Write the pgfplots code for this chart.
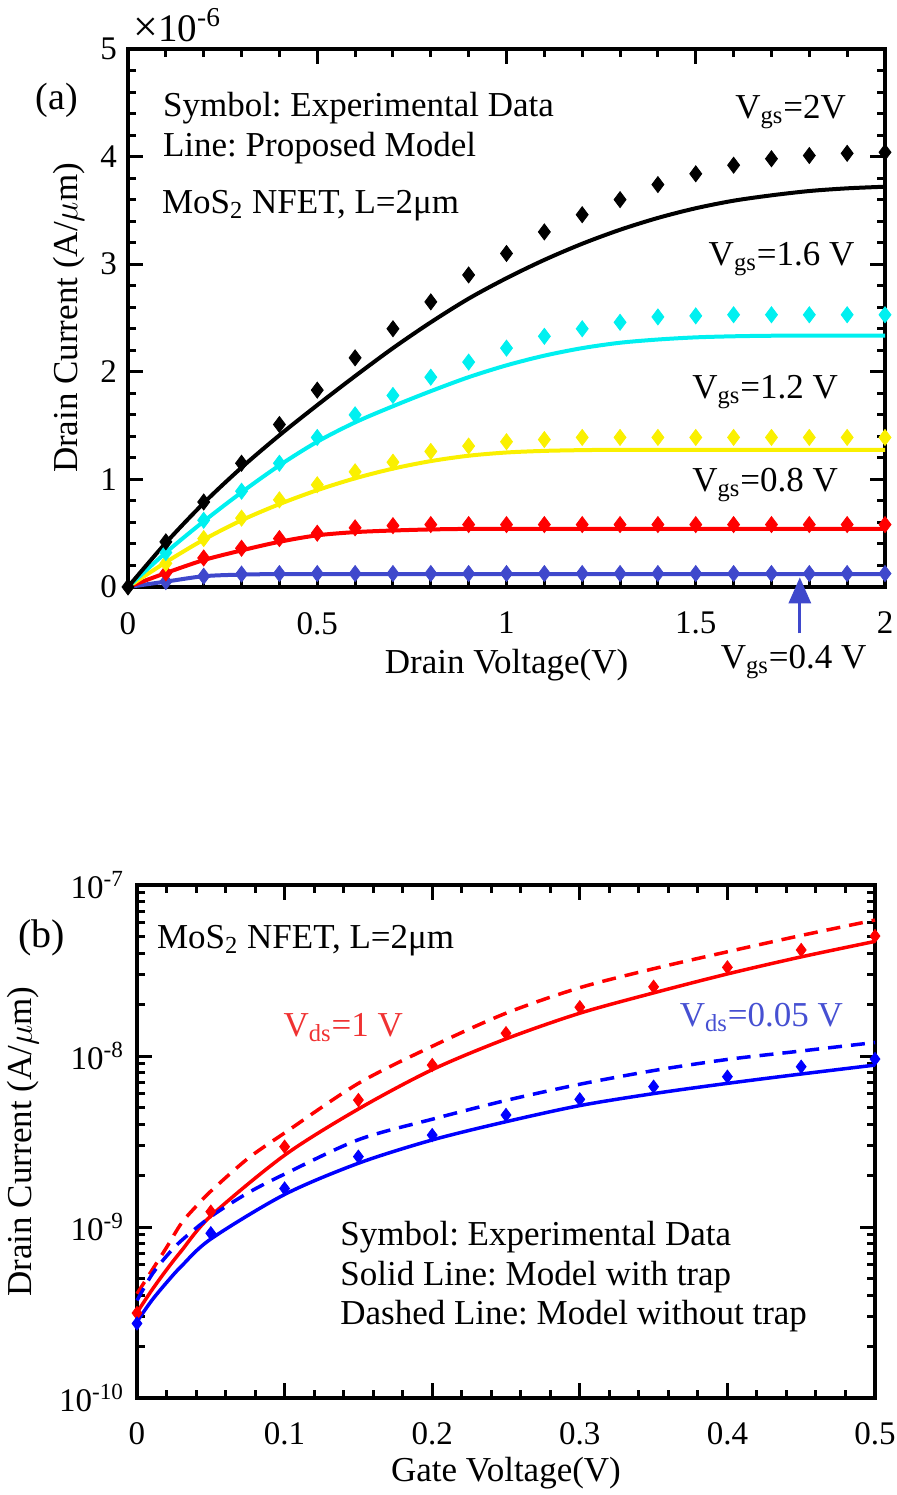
\documentclass[border=0pt]{standalone}
\usepackage{fontspec}
\setmainfont{Liberation Serif}
\usepackage{pgfplots}
\pgfplotsset{compat=1.18}
\usetikzlibrary{arrows.meta}
\frenchspacing
\definecolor{cblue}{RGB}{63,72,204}
\definecolor{ccyan}{RGB}{0,240,240}
\definecolor{cyel}{RGB}{250,240,0}
\definecolor{lred}{RGB}{240,50,50}
\definecolor{lblue}{RGB}{70,80,210}
\pgfplotsset{
  myaxis/.style={
    scale only axis, clip=false,
    tick align=inside,
    major tick length=7.5pt, minor tick length=4pt,
    every tick/.append style={line width=1.5pt, black},
    axis line style={line width=2pt},
    font=\fontsize{17.5}{20}\selectfont,
    tick label style={font=\fontsize{16.5}{20}\selectfont},
    label style={font=\fontsize{17.5}{20}\selectfont},
    /pgf/number format/assume math mode=true,
  },
}
\begin{document}
\begin{tikzpicture}
\path[use as bounding box] (0,0) rectangle (448.5pt,747.5pt);
% ---------------- (a) ----------------
\begin{axis}[myaxis,
  at={(64pt,454pt)}, anchor=south west,
  width=378.5pt, height=269pt,
  xmin=0, xmax=2, ymin=0, ymax=5,
  xtick={0,0.5,1,1.5,2}, minor x tick num=4,
  ytick={0,1,2,3,4,5}, minor y tick num=4,
  xticklabel style={yshift=-9pt},
  yticklabel style={xshift=-2pt},
  xlabel={Drain Voltage(V)},
  xlabel style={at={(axis description cs:0.5,-0.145)}, anchor=center},
  ylabel={Drain Current (A/$\mu$m)},
  ylabel style={at={(axis description cs:-0.078,0.5)}, anchor=center},
]
% Vgs = 0.4 V
\addplot[cblue, line width=2pt, smooth] coordinates {(0,0) (0.1,0.05) (0.2,0.10) (0.3,0.115) (0.4,0.12) (0.6,0.12) (0.8,0.12) (1.0,0.12) (1.2,0.12) (1.4,0.12) (1.6,0.12) (1.8,0.12) (2.0,0.12)};
\addplot[cblue, only marks, mark=diamond*, mark size=4pt] coordinates {(0.1,0.05) (0.2,0.10) (0.3,0.12) (0.4,0.125) (0.5,0.125) (0.6,0.125) (0.7,0.125) (0.8,0.125) (0.9,0.125) (1.0,0.125) (1.1,0.125) (1.2,0.125) (1.3,0.125) (1.4,0.125) (1.5,0.125) (1.6,0.125) (1.7,0.125) (1.8,0.125) (1.9,0.125) (2.0,0.125)};
% Vgs = 0.8 V
\addplot[red, line width=2pt, smooth] coordinates {(0,0) (0.1,0.13) (0.2,0.25) (0.3,0.34) (0.4,0.42) (0.5,0.48) (0.6,0.51) (0.7,0.525) (0.8,0.535) (0.9,0.54) (1.0,0.54) (1.2,0.54) (1.4,0.54) (1.6,0.54) (1.8,0.54) (2.0,0.54)};
\addplot[red, only marks, mark=diamond*, mark size=4pt] coordinates {(0.1,0.13) (0.2,0.27) (0.3,0.36) (0.4,0.45) (0.5,0.50) (0.6,0.55) (0.7,0.57) (0.8,0.58) (0.9,0.58) (1.0,0.58) (1.1,0.58) (1.2,0.58) (1.3,0.58) (1.4,0.58) (1.5,0.58) (1.6,0.58) (1.7,0.58) (1.8,0.58) (1.9,0.58) (2.0,0.58)};
% Vgs = 1.2 V
\addplot[cyel, line width=2pt, smooth] coordinates {(0,0) (0.1,0.23) (0.2,0.44) (0.3,0.62) (0.4,0.77) (0.5,0.90) (0.6,1.01) (0.7,1.10) (0.8,1.17) (0.9,1.22) (1.0,1.25) (1.1,1.265) (1.2,1.272) (1.3,1.275) (1.5,1.275) (1.7,1.275) (2.0,1.275)};
\addplot[cyel, only marks, mark=diamond*, mark size=4pt] coordinates {(0.1,0.22) (0.2,0.45) (0.3,0.64) (0.4,0.81) (0.5,0.95) (0.6,1.07) (0.7,1.16) (0.8,1.26) (0.9,1.31) (1.0,1.35) (1.1,1.37) (1.2,1.39) (1.3,1.39) (1.4,1.39) (1.5,1.39) (1.6,1.39) (1.7,1.39) (1.8,1.39) (1.9,1.39) (2.0,1.39)};
% Vgs = 1.6 V
\addplot[ccyan, line width=2pt, smooth] coordinates {(0,0) (0.1,0.32) (0.2,0.61) (0.3,0.88) (0.4,1.13) (0.5,1.35) (0.6,1.53) (0.7,1.68) (0.8,1.82) (0.9,1.95) (1.0,2.06) (1.1,2.15) (1.2,2.22) (1.3,2.27) (1.4,2.30) (1.5,2.32) (1.6,2.33) (1.7,2.335) (1.8,2.335) (1.9,2.335) (2.0,2.335)};
\addplot[ccyan, only marks, mark=diamond*, mark size=4pt] coordinates {(0.1,0.32) (0.2,0.62) (0.3,0.89) (0.4,1.15) (0.5,1.39) (0.6,1.60) (0.7,1.78) (0.8,1.95) (0.9,2.09) (1.0,2.22) (1.1,2.33) (1.2,2.40) (1.3,2.46) (1.4,2.51) (1.5,2.52) (1.6,2.53) (1.7,2.53) (1.8,2.53) (1.9,2.53) (2.0,2.53)};
% Vgs = 2 V
\addplot[black, line width=2pt, smooth] coordinates {(0,0) (0.1,0.41) (0.2,0.78) (0.3,1.11) (0.4,1.41) (0.5,1.69) (0.6,1.96) (0.7,2.22) (0.8,2.46) (0.9,2.68) (1.0,2.87) (1.1,3.04) (1.2,3.19) (1.3,3.32) (1.4,3.43) (1.5,3.52) (1.6,3.59) (1.7,3.64) (1.8,3.68) (1.9,3.705) (2.0,3.72)};
\addplot[black, only marks, mark=diamond*, mark size=4pt] coordinates {(0,0) (0.1,0.42) (0.2,0.79) (0.3,1.15) (0.4,1.51) (0.5,1.83) (0.6,2.13) (0.7,2.40) (0.8,2.65) (0.9,2.90) (1.0,3.10) (1.1,3.30) (1.2,3.46) (1.3,3.60) (1.4,3.74) (1.5,3.84) (1.6,3.92) (1.7,3.98) (1.8,4.01) (1.9,4.03) (2.0,4.04)};
% annotations
\draw[cblue, line width=1.5pt, -{Triangle[width=11pt,length=13pt]}] (axis cs:1.775,-0.43) -- (axis cs:1.775,0.09);
\node[anchor=base west, inner sep=0pt, font=\fontsize{19.5}{22}\selectfont] at (axis description cs:0.0066,1.0136) {{\fontsize{22}{22}\selectfont ×}10\textsuperscript{-6}};
\node[font=\fontsize{19}{22}\selectfont] at (axis description cs:-0.094,0.905) {(a)};
\node[anchor=base west, inner sep=0pt] at (axis description cs:0.0458,0.8736) {Symbol: Experimental Data};
\node[anchor=base west, inner sep=0pt] at (axis description cs:0.0458,0.7998) {Line: Proposed Model};
\node[anchor=base west, inner sep=0pt] at (axis description cs:0.0445,0.6946) {MoS\textsubscript{2} NFET, L=2μm};
\node[anchor=base east, inner sep=0pt] at (axis description cs:0.949,0.871) {V\textsubscript{gs}=2V};
\node[anchor=base east, inner sep=0pt] at (axis description cs:0.960,0.5985) {V\textsubscript{gs}=1.6 V};
\node[anchor=base east, inner sep=0pt] at (axis description cs:0.9383,0.3507) {V\textsubscript{gs}=1.2 V};
\node[anchor=base east, inner sep=0pt] at (axis description cs:0.9383,0.1772) {V\textsubscript{gs}=0.8 V};
\node[anchor=base east, inner sep=0pt] at (axis description cs:0.976,-0.151) {V\textsubscript{gs}=0.4 V};
\end{axis}
% ---------------- (b) ----------------
\begin{axis}[myaxis,
  at={(68.5pt,48.5pt)}, anchor=south west,
  width=369pt, height=256.5pt,
  xmin=0, xmax=0.5, ymin=1e-10, ymax=1e-7,
  ymode=log,
  xtick={0,0.1,0.2,0.3,0.4,0.5}, minor x tick num=4,
  ytick={1e-10,1e-9,1e-8,1e-7},
  yticklabels={10\textsuperscript{-10},10\textsuperscript{-9},10\textsuperscript{-8},10\textsuperscript{-7}},
  xticklabel style={yshift=-8.5pt},
  yticklabel style={xshift=-3pt},
  xlabel={Gate Voltage(V)},
  xlabel style={at={(axis description cs:0.5,-0.146)}, anchor=center},
  ylabel={Drain Current (A/$\mu$m)},
  ylabel style={at={(axis description cs:-0.154,0.5)}, anchor=center},
]
% Vds = 1 V
\addplot[red, line width=1.75pt, dash pattern=on 7pt off 4.5pt, smooth] coordinates {(0,4.07e-10) (0.01,5.56e-10) (0.02,7.59e-10) (0.03,1.05e-9) (0.04,1.32e-9) (0.05,1.62e-9) (0.075,2.51e-9) (0.1,3.55e-9) (0.15,6.92e-9) (0.2,1.14e-8) (0.25,1.78e-8) (0.3,2.51e-8) (0.35,3.24e-8) (0.4,4.07e-8) (0.45,5.07e-8) (0.5,6.24e-8)};
\addplot[red, line width=1.75pt, smooth] coordinates {(0,3.16e-10) (0.01,4.27e-10) (0.02,5.62e-10) (0.03,7.24e-10) (0.05,1.16e-9) (0.1,2.63e-9) (0.15,4.90e-9) (0.2,8.32e-9) (0.25,1.26e-8) (0.3,1.78e-8) (0.35,2.34e-8) (0.4,3.02e-8) (0.45,3.80e-8) (0.5,4.68e-8)};
\addplot[red, only marks, mark=diamond*, mark size=3.3pt] coordinates {(0,3.14e-10) (0.05,1.23e-9) (0.1,2.95e-9) (0.15,5.53e-9) (0.2,8.86e-9) (0.25,1.36e-8) (0.3,1.93e-8) (0.35,2.54e-8) (0.4,3.30e-8) (0.45,4.17e-8) (0.5,5.03e-8)};
% Vds = 0.05 V
\addplot[blue, line width=1.75pt, dash pattern=on 7pt off 4.5pt, smooth] coordinates {(0,3.72e-10) (0.01,5.25e-10) (0.02,6.76e-10) (0.03,8.32e-10) (0.05,1.15e-9) (0.075,1.58e-9) (0.1,2.04e-9) (0.15,3.24e-9) (0.2,4.27e-9) (0.25,5.50e-9) (0.3,6.84e-9) (0.35,8.22e-9) (0.4,9.55e-9) (0.45,1.07e-8) (0.5,1.20e-8)};
\addplot[blue, line width=1.75pt, smooth] coordinates {(0,2.80e-10) (0.01,3.72e-10) (0.02,4.73e-10) (0.03,5.89e-10) (0.05,8.51e-10) (0.1,1.55e-9) (0.15,2.36e-9) (0.2,3.23e-9) (0.25,4.13e-9) (0.3,5.13e-9) (0.35,6.03e-9) (0.4,6.92e-9) (0.45,7.85e-9) (0.5,8.85e-9)};
\addplot[blue, only marks, mark=diamond*, mark size=3.3pt] coordinates {(0,2.73e-10) (0.05,9.2e-10) (0.1,1.68e-9) (0.15,2.58e-9) (0.2,3.45e-9) (0.25,4.52e-9) (0.3,5.58e-9) (0.35,6.62e-9) (0.4,7.57e-9) (0.45,8.66e-9) (0.5,9.6e-9)};
% annotations
\node[font=\fontsize{20}{22}\selectfont] at (axis description cs:-0.129,0.897) {(b)};
\node[anchor=base west, inner sep=0pt] at (axis description cs:0.0267,0.8766) {MoS\textsubscript{2} NFET, L=2μm};
\node[anchor=base west, inner sep=0pt, text=lred] at (axis description cs:0.198,0.7043) {V\textsubscript{ds}=1 V};
\node[anchor=base east, inner sep=0pt, text=lblue] at (axis description cs:0.957,0.7238) {V\textsubscript{ds}=0.05 V};
\node[anchor=base west, inner sep=0pt] at (axis description cs:0.275,0.2982) {Symbol: Experimental Data};
\node[anchor=base west, inner sep=0pt] at (axis description cs:0.275,0.2203) {Solid Line: Model with trap};
\node[anchor=base west, inner sep=0pt] at (axis description cs:0.275,0.1442) {Dashed Line: Model without trap};
\end{axis}
\end{tikzpicture}
\end{document}
